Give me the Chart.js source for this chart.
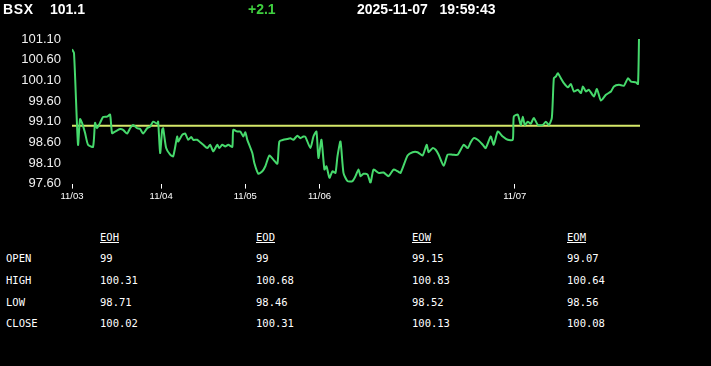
<!DOCTYPE html>
<html>
<head>
<meta charset="utf-8">
<script src="https://cdn.jsdelivr.net/npm/chart.js@4.4.1/dist/chart.umd.min.js"></script>
<style>
  html, body { margin: 0; padding: 0; background: #000; width: 711px; height: 366px; overflow: hidden; }
  #hdr span { position: absolute; top: 1px; font: bold 14px "Liberation Sans", Arial, sans-serif; color: #fff; line-height: 16px; }
  #chartBox { position: absolute; left: 0; top: 0; width: 711px; height: 205px; }
  #tbl { position: absolute; left: 0; top: 0; font: 10.5px "DejaVu Sans Mono", monospace; color: #fff; }
  #tbl div { position: absolute; white-space: nowrap; }
  .hd { text-decoration: underline; }
</style>
</head>
<body>
<div id="chartBox"><canvas id="lineChart"></canvas></div>
<div id="hdr">
  <span style="left:3px;letter-spacing:0.6px">BSX</span>
  <span id="lastPx" style="left:50px"></span>
  <span id="chgPx" style="left:248px;color:#3fcf3f"></span>
  <span id="stamp" style="left:357px;white-space:pre"></span>
</div>
<div id="tbl"></div>

<script>
// --- Header ---
const SYMBOL = "BSX";
const LAST_PRICE = "101.1";
const CHANGE = "+2.1";
const STAMP = "2025-11-07   19:59:43";

// --- Price series (sample index, price) ---
const sampleIdx = [
  0, 2, 6, 8, 10, 13, 16, 21, 23, 25, 28, 31, 35, 38, 40, 43, 48, 51, 55, 58,
  61, 65, 68, 71, 75, 78, 81, 85, 86, 88, 90, 91, 94, 98, 101, 105, 106, 110, 113, 116,
  119, 121, 125, 128, 131, 135, 138, 141, 145, 147, 150, 153, 156, 160, 161, 165, 168, 171, 173, 175,
  180, 182, 186, 190, 193, 197, 201, 205, 207, 211, 215, 218, 221, 225, 228, 231, 233, 238, 241, 244,
  246, 249, 252, 254, 257, 260, 263, 265, 268, 271, 275, 280, 283, 286, 288, 291, 295, 298, 301, 306,
  311, 316, 321, 325, 328, 335, 340, 345, 350, 354, 356, 360, 363, 366, 371, 375, 380, 385, 391, 395,
  398, 401, 405, 410, 413, 418, 421, 425, 430, 435, 440, 441, 445, 448, 450, 452, 455, 458, 461, 465,
  470, 473, 476, 479, 481, 483, 485, 488, 491, 495, 498, 501, 505, 508, 510, 513, 516, 521, 524, 528,
  533, 538, 541, 546, 551, 555, 558, 563, 565, 566
];
const prices = [
  100.85, 100.76, 98.54, 99.16, 99.07, 98.83, 98.54, 98.49, 99.07, 98.94, 99.07, 99.21, 99.22, 99.27, 98.82, 98.86, 98.92, 98.90, 98.81, 98.94,
  99.02, 98.94, 98.92, 98.81, 98.94, 98.98, 99.10, 99.05, 99.10, 98.34, 98.90, 98.94, 98.46, 98.30, 98.26, 98.74, 98.62, 98.78, 98.81, 98.66,
  98.73, 98.66, 98.66, 98.60, 98.54, 98.46, 98.54, 98.38, 98.54, 98.46, 98.54, 98.50, 98.54, 98.49, 98.90, 98.86, 98.86, 98.74, 98.84, 98.66,
  98.34, 98.10, 97.84, 97.90, 98.02, 98.28, 98.18, 98.08, 98.62, 98.66, 98.68, 98.70, 98.66, 98.76, 98.70, 98.74, 98.73, 98.46, 98.74, 98.86,
  98.22, 98.66, 97.94, 98.02, 97.74, 97.90, 97.86, 98.26, 98.62, 97.86, 97.66, 97.66, 97.78, 97.94, 97.78, 97.84, 97.82, 97.62, 97.94, 97.86,
  97.87, 97.78, 97.94, 97.90, 97.86, 98.28, 98.36, 98.36, 98.28, 98.54, 98.36, 98.46, 98.42, 98.30, 98.03, 98.30, 98.30, 98.30, 98.54, 98.46,
  98.60, 98.70, 98.66, 98.54, 98.46, 98.74, 98.54, 98.86, 98.74, 98.66, 98.66, 99.22, 99.27, 99.02, 99.22, 99.02, 99.10, 99.05, 99.19, 99.02,
  99.02, 99.10, 99.02, 99.19, 100.15, 100.19, 100.27, 100.15, 100.03, 99.93, 100.01, 99.83, 99.87, 99.79, 99.95, 99.83, 99.87, 99.71, 99.89, 99.61,
  99.75, 99.83, 99.95, 99.99, 99.97, 100.15, 100.07, 100.05, 100.01, 101.10
];
const REF_PRICE = 99;      // yellow reference line
const LAST_IDX = 567;

// --- Axis ticks ---
const xTickIdx = [0, 89, 173, 247, 442];
const xTickLabels = ["11/03", "11/04", "11/05", "11/06", "11/07"];
const yTicks = [97.60, 98.10, 98.60, 99.10, 99.60, 100.10, 100.60, 101.10];

// --- Summary table ---
const colNames = ["EOH", "EOD", "EOW", "EOM"];
const rowNames = ["OPEN", "HIGH", "LOW", "CLOSE"];
const openVals = ["99", "99", "99.15", "99.07"];
const highVals = ["100.31", "100.68", "100.83", "100.64"];
const lowVals = ["98.71", "98.46", "98.52", "98.56"];
const closeVals = ["100.02", "100.31", "100.13", "100.08"];

document.getElementById("lastPx").textContent = LAST_PRICE;
document.getElementById("chgPx").textContent = CHANGE;
document.getElementById("stamp").textContent = STAMP;
document.querySelector("#hdr span").textContent = SYMBOL;

function renderTable() {
  const tbl = document.getElementById("tbl");
  const colX = [100, 256, 412, 567];
  const rowY = [252, 274, 296, 317];
  const rows = [openVals, highVals, lowVals, closeVals];
  colNames.forEach((c, i) => {
    const d = document.createElement("div");
    d.className = "hd";
    d.style.left = colX[i] + "px";
    d.style.top = "231px";
    d.textContent = c;
    tbl.appendChild(d);
  });
  rowNames.forEach((r, j) => {
    const d = document.createElement("div");
    d.style.left = "6px";
    d.style.top = rowY[j] + "px";
    d.textContent = r;
    tbl.appendChild(d);
    rows[j].forEach((v, i) => {
      const c = document.createElement("div");
      c.style.left = colX[i] + "px";
      c.style.top = rowY[j] + "px";
      c.textContent = v;
      tbl.appendChild(c);
    });
  });
}

function renderChart() {
  const ctx = document.getElementById("lineChart").getContext("2d");
  new Chart(ctx, {
    type: "line",
    data: {
      datasets: [
        {
          data: sampleIdx.map((x, i) => ({ x: x, y: prices[i] })),
          borderColor: "#46d96c",
          borderWidth: 2,
          pointRadius: 0,
          tension: 0.2
        },
        {
          data: [{ x: 0, y: REF_PRICE }, { x: LAST_IDX, y: REF_PRICE }],
          borderColor: "#d6e86a",
          borderWidth: 2,
          pointRadius: 0
        }
      ]
    },
    options: {
      responsive: true,
      maintainAspectRatio: false,
      animation: false,
      layout: { padding: { top: 39, right: 71, bottom: 1, left: 0 } },
      plugins: { legend: { display: false }, tooltip: { enabled: false } },
      scales: {
        x: {
          type: "linear",
          min: 0,
          max: LAST_IDX,
          border: { display: false },
          grid: { display: true, drawOnChartArea: false, drawTicks: true, tickLength: 5, color: "#ffffff" },
          afterBuildTicks: (s) => { s.ticks = xTickIdx.map(v => ({ value: v })); },
          ticks: {
            color: "#ffffff",
            padding: 2,
            maxRotation: 0,
            autoSkip: false,
            font: { family: "Liberation Sans", size: 9.5 },
            callback: (v) => xTickLabels[xTickIdx.indexOf(v)]
          }
        },
        y: {
          min: 97.6,
          max: 101.1,
          border: { display: false },
          grid: { display: false, drawTicks: false },
          afterBuildTicks: (s) => { s.ticks = yTicks.map(v => ({ value: v })); },
          afterFit: (s) => { s.width = 72; },
          ticks: {
            color: "#f0f0f0",
            padding: 11,
            font: { family: "Liberation Sans", size: 13 },
            callback: (v) => Number(v).toFixed(2)
          }
        }
      }
    }
  });
}

renderTable();
renderChart();
</script>
</body>
</html>
